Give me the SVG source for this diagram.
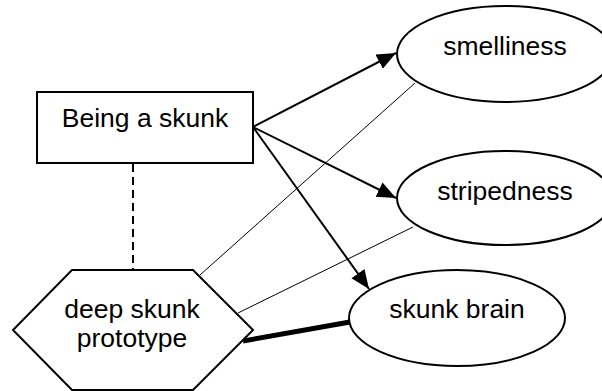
<svg xmlns="http://www.w3.org/2000/svg" width="602" height="391" viewBox="0 0 602 391">
  <style>
    .shape { fill: #fff; stroke: #000; stroke-width: 2; }
    .label { font-family: "Liberation Sans", Arial, sans-serif; font-size: 26.5px; fill: #000; text-anchor: middle; }
    .arrow { stroke: #000; stroke-width: 2; fill: none; marker-end: url(#head); }
    .thin { stroke: #000; stroke-width: 1; fill: none; }
    .heavy { stroke: #000; stroke-width: 5; fill: none; }
    .dashed { stroke: #000; stroke-width: 2; fill: none; stroke-dasharray: 8 5; }
  </style>
  <defs>
    <marker id="head" markerUnits="userSpaceOnUse" markerWidth="20" markerHeight="18" refX="19" refY="8" orient="auto">
      <path d="M0,0 L19,8 L0,16 z" fill="#000"/>
    </marker>
  </defs>
  <rect width="602" height="391" fill="#fff"/>

  <g id="connectors">
    <line class="dashed" x1="133" y1="164" x2="133" y2="270"/>
    <line class="thin" x1="415" y1="83" x2="200" y2="275"/>
    <line class="thin" x1="413" y1="227" x2="238" y2="313"/>
    <line class="heavy" x1="243" y1="341" x2="350" y2="322"/>
  </g>

  <g id="being-a-skunk">
    <rect class="shape" x="37" y="92" width="216" height="71"/>
    <text class="label" x="145" y="127">Being a skunk</text>
  </g>

  <g id="smelliness">
    <ellipse class="shape" cx="505" cy="54" rx="108" ry="48"/>
    <text class="label" x="505" y="55">smelliness</text>
  </g>

  <g id="stripedness">
    <ellipse class="shape" cx="505" cy="198" rx="108" ry="47"/>
    <text class="label" x="505" y="200">stripedness</text>
  </g>

  <g id="skunk-brain">
    <ellipse class="shape" cx="457" cy="318" rx="108" ry="48"/>
    <text class="label" x="457" y="318">skunk brain</text>
  </g>

  <g id="deep-skunk-prototype">
    <polygon class="shape" points="72,270 193,270 253,330 193,390 72,390 13,330"/>
    <text class="label" x="132" y="318">deep skunk</text>
    <text class="label" x="132" y="347">prototype</text>
  </g>

  <g id="arrows">
    <line class="arrow" x1="253" y1="127" x2="396" y2="53"/>
    <line class="arrow" x1="253" y1="127" x2="396" y2="198"/>
    <line class="arrow" x1="253" y1="127" x2="369" y2="289"/>
  </g>
</svg>
